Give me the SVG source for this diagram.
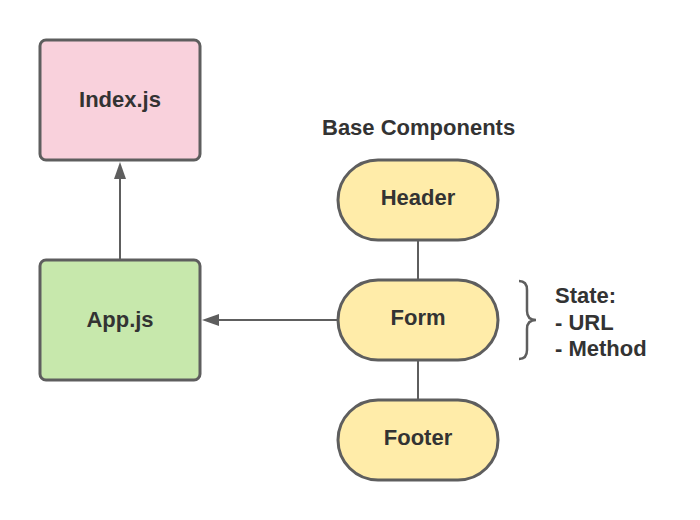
<svg xmlns="http://www.w3.org/2000/svg" width="700" height="520" viewBox="0 0 700 520">
<style>
.box{stroke:#5e5e5e;stroke-width:3}
.lbl{font-family:"Liberation Sans",Arial,sans-serif;font-weight:bold;font-size:22px;fill:#333333}
.mid{text-anchor:middle}
.conn{stroke:#5e5e5e;stroke-width:2;fill:none}
.brace{stroke:#5e5e5e;stroke-width:2.5;fill:none}
.head{fill:#5e5e5e}
</style>
<rect width="700" height="520" fill="#ffffff"/>
<g id="connectors">
<line class="conn" x1="120" y1="260" x2="120" y2="178"/>
<polygon class="head" points="120,162 114,179 126,179"/>
<line class="conn" x1="338" y1="320" x2="219" y2="320"/>
<polygon class="head" points="202,320 219,314 219,326"/>
<line class="conn" x1="418" y1="240" x2="418" y2="280"/>
<line class="conn" x1="418" y1="360" x2="418" y2="400"/>
</g>
<g id="index">
<rect class="box" x="40" y="40" width="160" height="120" rx="6" fill="#f9d1dc"/>
<text class="lbl mid" x="120" y="107">Index.js</text>
</g>
<g id="app">
<rect class="box" x="40" y="260" width="160" height="120" rx="6" fill="#c7e8ac"/>
<text class="lbl mid" x="120" y="327">App.js</text>
</g>
<g id="base-components">
<text class="lbl" x="322" y="135">Base Components</text>
</g>
<g id="header">
<rect class="box" x="338" y="160" width="160" height="80" rx="40" fill="#ffeca9"/>
<text class="lbl mid" x="418" y="205">Header</text>
</g>
<g id="form">
<rect class="box" x="338" y="280" width="160" height="80" rx="40" fill="#ffeca9"/>
<text class="lbl mid" x="418" y="325">Form</text>
</g>
<g id="footer">
<rect class="box" x="338" y="400" width="160" height="80" rx="40" fill="#ffeca9"/>
<text class="lbl mid" x="418" y="445">Footer</text>
</g>
<g id="state">
<path class="brace" d="M519,281 Q527,281 527,290 L527,311 Q527,320 536,320 Q527,320 527,329 L527,350 Q527,359 519,359"/>
<text class="lbl" x="555" y="303">State:</text>
<text class="lbl" x="555" y="330">- URL</text>
<text class="lbl" x="555" y="356">- Method</text>
</g>
</svg>
